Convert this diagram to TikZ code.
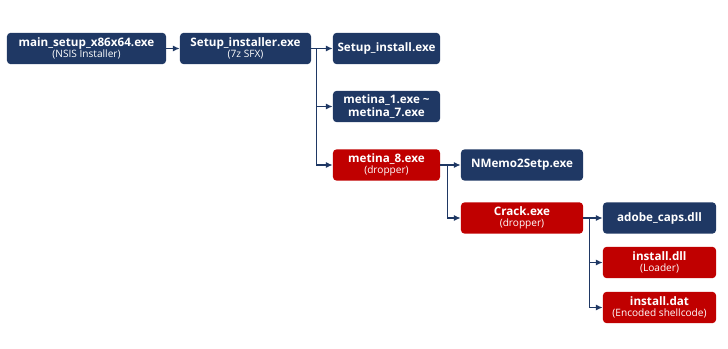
\documentclass[tikz,border=0pt]{standalone}
\usepackage{fontspec}
\setmainfont{Open Sans}
\usepackage{xcolor}
\usepackage{tikz}
\usetikzlibrary{positioning,arrows.meta,calc}

\definecolor{navy}{HTML}{1F3864}
\definecolor{alert}{HTML}{C00000}

\newcommand{\sub}[1]{\\[-1.5pt]{\fontsize{7.2}{8}\selectfont\mdseries #1}}

\begin{document}
\begin{tikzpicture}[
    x=0.025cm, y=-0.025cm,
    >={Latex[length=1.7mm,width=1.5mm]},
    every file/.style={rectangle, rounded corners=2.5pt, text=white, align=center,
        font=\fontsize{8.3}{9}\selectfont\bfseries, minimum height=0.78cm, inner sep=1pt},
    safe file/.style={every file, fill=navy},
    bad file/.style={every file, fill=alert},
    link/.style={->, draw=navy, line width=0.9pt}
]
    \useasboundingbox (0,0) rectangle (728,348);

    \node[safe file, minimum width=3.975cm] (main) at (86.5,48.5) {main\_setup\_x86x64.exe\sub{(NSIS Installer)}};
    \node[safe file, minimum width=3.275cm] (sfx) at (245.5,48.5) {Setup\_installer.exe\sub{(7z SFX)}};
    \node[safe file, minimum width=2.675cm] (inst) at (386.5,48.5) {Setup\_install.exe};
    \node[safe file, minimum width=2.675cm] (met17) at (386.5,106.5) {metina\_1.exe \textasciitilde\\metina\_7.exe};
    \node[bad file, minimum width=2.675cm] (met8) at (386.5,165) {metina\_8.exe\sub{(dropper)}};
    \node[safe file, minimum width=3.05cm] (nmemo) at (522,165) {NMemo2Setp.exe};
    \node[bad file, minimum width=3.05cm] (crack) at (522,218) {Crack.exe\sub{(dropper)}};
    \node[safe file, minimum width=2.825cm] (adobe) at (659.5,218) {adobe\_caps.dll};
    \node[bad file, minimum width=2.825cm] (idll) at (659.5,262.5) {install.dll\sub{(Loader)}};
    \node[bad file, minimum width=2.825cm] (idat) at (659.5,307.5) {install.dat\sub{(Encoded shellcode)}};

    \draw[link] (main) -- (sfx);
    \draw[link] (sfx) -- (inst);
    \draw[link] (sfx.east) -- ++(5,0) |- (met17.west);
    \draw[link] (sfx.east) -- ++(5,0) |- (met8.west);
    \draw[link] (met8) -- (nmemo);
    \draw[link] (met8.east) -- ++(7,0) |- (crack.west);
    \draw[link] (crack) -- (adobe);
    \draw[link] (crack.east) -- ++(6,0) |- (idll.west);
    \draw[link] (crack.east) -- ++(6,0) |- (idat.west);
\end{tikzpicture}
\end{document}
